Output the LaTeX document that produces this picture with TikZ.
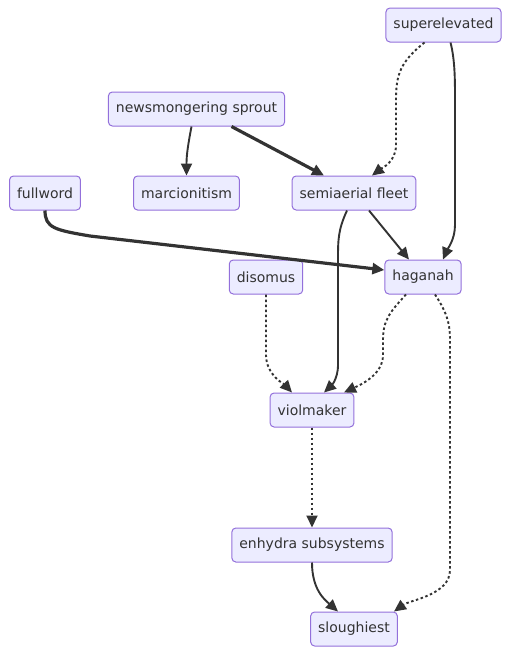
\documentclass[tikz,border=0pt]{standalone}
\usepackage{fontspec}
\setmainfont{DejaVu Sans}
\usepackage{xcolor}
\usepackage{tikz}
\usetikzlibrary{arrows.meta, positioning}
\definecolor{boxfill}{HTML}{ECECFF}
\definecolor{boxline}{HTML}{9370DB}
\definecolor{edgegray}{HTML}{333333}

\begin{document}
\begin{tikzpicture}[x=1pt, y=-1pt,
    box/.style={draw=boxline, fill=boxfill, rounded corners=4pt, line width=1pt,
      minimum height=34pt, inner xsep=7.5pt, text=edgegray, font=\fontsize{14}{16}\selectfont},
    link/.style={draw=edgegray, line width=1.9pt, -{Triangle[length=12pt, width=11pt]}},
    boldlink/.style={link, line width=3.2pt},
    dotlink/.style={link, dash pattern=on 2.5pt off 2.5pt}]
    \useasboundingbox (0,0) rectangle (510,654);
    % Nodes
    \node[box] (superelev) at (443.5,25) {superelevated};
    \node[box] (newsmong) at (196.5,109) {newsmongering sprout};
    \node[box] (fullword) at (45,193) {fullword};
    \node[box] (marcion) at (186.5,193) {marcionitism};
    \node[box] (semiaer) at (354,193) {semiaerial fleet};
    \node[box] (disomus) at (266,277) {disomus};
    \node[box] (haganah) at (423,277) {haganah};
    \node[box] (violmaker) at (312,410) {violmaker};
    \node[box] (enhydra) at (312,545) {enhydra subsystems};
    \node[box] (slough) at (354,629) {sloughiest};
    % Top links
    \draw[link] ([xshift=-5pt]newsmong.south) .. controls (188,145) and (186.5,155) .. (marcion.north);
    \draw[boldlink] ([xshift=35pt]newsmong.south) -- ([xshift=-30pt]semiaer.north);
    \draw[dotlink] ([xshift=-19pt]superelev.south) .. controls (400,62) and (396,75) .. (396,100)
      -- (396,145) .. controls (396,162) and (382,168) .. ([xshift=18pt]semiaer.north);
    \draw[link] ([xshift=7pt]superelev.south) .. controls (455,60) and (455,80) .. (455,100)
      -- (455,225) .. controls (455,240) and (447,250) .. ([xshift=20pt]haganah.north);
    \draw[link] ([xshift=15pt]semiaer.south) -- ([xshift=-14pt]haganah.north);
    \draw[boldlink] (fullword.south) .. controls (45,228) and (55,230) .. (90,236)
      -- ([yshift=7pt]haganah.west);
    % Middle links
    \draw[link] ([xshift=-7pt]semiaer.south) .. controls (338,230) and (338,240) .. (338,260)
      -- (338,365) .. controls (338,380) and (330,387) .. ([xshift=12pt]violmaker.north);
    \draw[dotlink] (disomus.south) -- (266,355) .. controls (266,375) and (285,385) .. ([xshift=-20pt]violmaker.north);
    \draw[dotlink] ([xshift=-17pt]haganah.south) .. controls (390,312) and (383,320) .. (383,340)
      -- (383,355) .. controls (383,375) and (360,385) .. ([xshift=32pt]violmaker.north);
    \draw[dotlink] ([xshift=12pt]haganah.south) .. controls (445,310) and (450,320) .. (450,340)
      -- (450,570) .. controls (450,595) and (410,600) .. ([xshift=40pt]slough.north);
    % Bottom links
    \draw[dotlink] (violmaker.south) -- (enhydra.north);
    \draw[link] (enhydra.south) .. controls (312,590) and (325,600) .. ([xshift=-16pt]slough.north);
\end{tikzpicture}
\end{document}
